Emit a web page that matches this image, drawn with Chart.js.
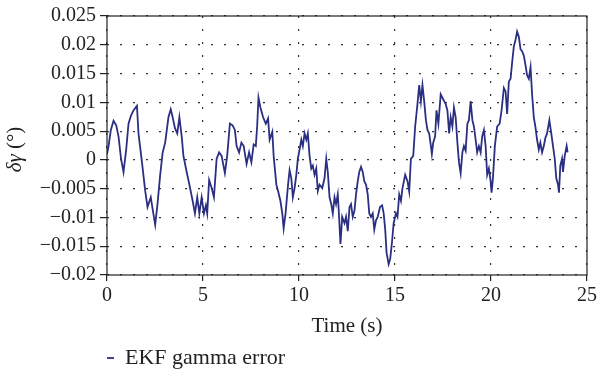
<!DOCTYPE html>
<html>
<head>
<meta charset="utf-8">
<script src="https://cdn.jsdelivr.net/npm/chart.js@4.4.1/dist/chart.umd.min.js"></script>
<style>
html, body { margin: 0; padding: 0; background: #fff; }
</style>
</head>
<body>
<canvas id="grafico" width="600" height="383"></canvas>
<script>
// Datos
const timeS = [
    0, 0.08, 0.2, 0.34, 0.48, 0.6, 0.73, 0.86, 1.0, 1.12,
    1.25, 1.38, 1.56, 1.64, 1.82, 1.99, 2.11, 2.28, 2.39, 2.51,
    2.63, 2.77, 2.9, 3.03, 3.2, 3.32, 3.42, 3.54, 3.66, 3.77,
    3.89, 3.98, 4.15, 4.29, 4.46, 4.58, 4.70, 4.81, 4.93, 5.05,
    5.15, 5.22, 5.32, 5.45, 5.57, 5.71, 5.84, 5.97, 6.14, 6.26,
    6.4, 6.54, 6.66, 6.75, 6.88, 7.0, 7.12, 7.27, 7.4, 7.52,
    7.64, 7.75, 7.82, 7.89, 7.99,
    8.13, 8.27, 8.39, 8.47, 8.61, 8.68, 8.82, 8.91, 9.03, 9.13,
    9.2, 9.3, 9.43, 9.51, 9.6, 9.68, 9.77, 9.86, 9.94, 10.03,
    10.12, 10.2, 10.29, 10.38, 10.46, 10.55, 10.64, 10.72, 10.81, 10.9,
    10.98, 11.07, 11.21, 11.33, 11.42, 11.5, 11.59, 11.68, 11.76, 11.85,
    11.93, 12.02, 12.07, 12.16, 12.25, 12.37, 12.45, 12.54, 12.63, 12.71,
    12.8, 12.89, 12.97, 13.06, 13.14, 13.23, 13.32, 13.4, 13.49, 13.58,
    13.66, 13.75, 13.84, 13.92, 14.01, 14.1, 14.22, 14.33, 14.41, 14.49,
    14.56, 14.67, 14.75, 14.84, 14.93, 15.05, 15.13, 15.22, 15.31, 15.39,
    15.53, 15.65, 15.74, 15.83, 15.95, 16.05, 16.17, 16.26, 16.35, 16.43,
    16.52,
    16.61, 16.69, 16.78, 16.87, 16.92, 16.99, 17.09, 17.16, 17.26, 17.38,
    17.47, 17.56, 17.64, 17.73, 17.82, 17.9, 17.99, 18.07, 18.16, 18.25,
    18.33, 18.42, 18.51, 18.59, 18.68, 18.77, 18.85, 18.94, 19.03, 19.11,
    19.2, 19.28, 19.37, 19.46, 19.54, 19.63, 19.72, 19.8, 19.89, 19.98,
    20.03, 20.1, 20.2, 20.32, 20.45, 20.55, 20.67, 20.76, 20.84, 20.93,
    21.02, 21.1, 21.19, 21.28, 21.36, 21.45, 21.54, 21.62, 21.71, 21.8,
    21.88, 21.97, 22.06, 22.14, 22.23, 22.31, 22.4, 22.49, 22.57, 22.66,
    22.75, 22.83, 22.92, 23.04, 23.14, 23.23, 23.32, 23.4, 23.49, 23.54,
    23.61, 23.7, 23.75, 23.84, 23.94, 23.99
];

const gammaError = [
    0.001, 0.0024, 0.0052, 0.0068, 0.006, 0.0041, 0.0002, -0.0021, 0.0018, 0.0063,
    0.0077, 0.0086, 0.0094, 0.0046, -0.0004, -0.0054, -0.0082, -0.0065, -0.0088, -0.0113,
    -0.0077, -0.0026, 0.0013, 0.003, 0.0074, 0.0088, 0.0074, 0.0055, 0.0046, 0.0074,
    0.0041, 0.0007, -0.0021, -0.0043, -0.0071, -0.0093, -0.0065, -0.0093, -0.0065, -0.0093,
    -0.0079, -0.0093, -0.0035, -0.0049, -0.0065, 0.0002, 0.0013, 0.0007, -0.0023, 0.0007,
    0.0063, 0.006, 0.0052, 0.0024, 0.0013, 0.003, 0.0024, -0.0007, 0.0013, -0.0004,
    0.0027, 0.0024, 0.0058, 0.0108, 0.0091,
    0.0074, 0.0063, 0.0072, 0.0035, 0.0049, 0.0007, -0.0043, -0.0054, -0.0071, -0.0093,
    -0.0119, -0.0093, -0.0043, -0.0018, -0.0032, -0.0065, -0.0049, -0.0026, 0.0002, 0.0018,
    0.0035, 0.0024, 0.0046, 0.0035, 0.0046, 0.0007, -0.0015, -0.001, -0.0026, -0.0015,
    -0.0054, -0.0043, -0.0049, -0.0032, 0.0002, -0.0021, -0.0065, -0.0077, -0.0093, -0.0065,
    -0.0077, -0.006, -0.0088, -0.0146, -0.0099, -0.011, -0.0099, -0.0124, -0.0082, -0.0077,
    -0.0099, -0.0088, -0.006, -0.0037, -0.0021, -0.0012, -0.0021, -0.0037, -0.0043, -0.006,
    -0.0093, -0.0099, -0.0093, -0.0121, -0.0105, -0.0099, -0.0082, -0.0079, -0.0093, -0.0121,
    -0.0161, -0.0181, -0.0172, -0.0144, -0.011, -0.0093, -0.0099, -0.006, -0.0071, -0.0049,
    -0.0026, -0.0037, -0.0055, 0.0002, 0.0007, 0.0058, 0.0097, 0.013, 0.0102, 0.013,
    0.0102,
    0.0069, 0.0052, 0.0046, 0.0024, 0.001, 0.003, 0.0041, 0.0086, 0.0063, 0.0114,
    0.0108, 0.0102, 0.0097, 0.0086, 0.0046, 0.0074, 0.0058, 0.0091, 0.0074, 0.003,
    -0.0004, -0.0023, 0.0013, 0.0024, 0.0016, 0.0063, 0.0069, 0.0102, 0.0069, 0.0058,
    0.0035, 0.0013, 0.0024, 0.0013, 0.0041, 0.0052, 0.0024, -0.0026, -0.0015, -0.0037,
    -0.0057, -0.0032, 0.0024, 0.0058, 0.0063, 0.0086, 0.0125, 0.0119, 0.008, 0.0136,
    0.0141, 0.0169, 0.0197, 0.0209, 0.0223, 0.0214, 0.0192, 0.0189, 0.0181, 0.0164,
    0.0147, 0.0141, 0.0161, 0.0114, 0.0074, 0.0058, 0.0035, 0.0018, 0.003, 0.0013,
    0.0024, 0.0038, 0.0046, 0.0069, 0.0046, 0.0024, 0.0002, -0.0032, -0.0043, -0.0057,
    -0.001, 0.0002, -0.0021, 0.0007, 0.0024, 0.0013
];

const xTicks = [0, 5, 10, 15, 20, 25];
const yTicks = [-0.02, -0.015, -0.01, -0.005, 0, 0.005, 0.01, 0.015, 0.02, 0.025];
const yTickLabels = ["\u22120.02", "\u22120.015", "\u22120.01", "\u22120.005", "0", "0.005", "0.01", "0.015", "0.02", "0.025"];
const seriesName = "EKF gamma error";

const serif = "'Liberation Serif', 'DejaVu Serif', serif";
const lineColor = "#2a2f82";

// Marco completo alrededor del área del gráfico
const marco = {
    id: "marco",
    afterDraw(chart) {
        const { ctx, chartArea: a } = chart;
        ctx.save();
        ctx.strokeStyle = "#222";
        ctx.lineWidth = 1.2;
        ctx.strokeRect(a.left, a.top, a.right - a.left, a.bottom - a.top);
        ctx.restore();
    }
};

// Título del eje Y con δγ en cursiva
const tituloY = {
    id: "tituloY",
    afterDraw(chart) {
        const ctx = chart.ctx;
        const a = chart.chartArea;
        const cy = (a.top + a.bottom) / 2 + 4;
        ctx.save();
        ctx.translate(15, cy);
        ctx.rotate(-Math.PI / 2);
        ctx.textBaseline = "middle";
        ctx.fillStyle = "#222";
        ctx.font = "italic 21px " + serif;
        const p1 = "\u03b4\u03b3";
        const w1 = ctx.measureText(p1).width;
        ctx.font = "21px " + serif;
        const p2 = " (\u00b0)";
        const w2 = ctx.measureText(p2).width;
        let x = -(w1 + w2) / 2;
        ctx.font = "italic 21px " + serif;
        ctx.fillText(p1, x, 0);
        ctx.font = "21px " + serif;
        ctx.fillText(p2, x + w1, 0);
        ctx.restore();
    }
};

const ctx = document.getElementById("grafico").getContext("2d");
new Chart(ctx, {
    type: "line",
    data: {
        datasets: [{
            label: seriesName,
            data: timeS.map((t, i) => ({ x: t, y: gammaError[i] })),
            borderColor: lineColor,
            backgroundColor: lineColor,
            borderWidth: 1.8,
            pointRadius: 0,
            tension: 0,
            fill: false
        }]
    },
    options: {
        responsive: false,
        animation: false,
        devicePixelRatio: 1,
        layout: { padding: { top: 16, right: 12, bottom: 4, left: 0 } },
        plugins: {
            legend: {
                position: "bottom",
                align: "start",
                fullSize: false,
                labels: {
                    usePointStyle: true,
                    pointStyle: "line",
                    pointStyleWidth: 7,
                    padding: 0,
                    color: "#222",
                    font: { family: serif, size: 22 }
                }
            },
            tooltip: { enabled: false }
        },
        scales: {
            x: {
                type: "linear",
                min: 0,
                max: 25,
                afterBuildTicks: s => { s.ticks = xTicks.map(v => ({ value: v })); },
                afterFit: s => { s.height = 72; },
                border: { display: false, dash: [2, 11] },
                grid: {
                    color: "#333",
                    lineWidth: 1.2,
                    tickLength: 6,
                    tickColor: "#222",
                    tickBorderDash: []
                },
                ticks: {
                    color: "#222",
                    padding: 3,
                    maxRotation: 0,
                    font: { family: serif, size: 20 },
                    callback: (v, i) => String(xTicks[i])
                },
                title: {
                    display: true,
                    text: "Time (s)",
                    color: "#222",
                    padding: { top: 2, bottom: 8 },
                    font: { family: serif, size: 21 }
                }
            },
            y: {
                min: -0.02,
                max: 0.025,
                afterBuildTicks: s => { s.ticks = yTicks.map(v => ({ value: v })); },
                afterFit: s => { s.width = 107; },
                border: { display: false, dash: [2, 11] },
                grid: {
                    color: "#333",
                    lineWidth: 1.2,
                    tickLength: 7,
                    tickColor: "#222",
                    tickBorderDash: []
                },
                ticks: {
                    color: "#222",
                    padding: 4,
                    font: { family: serif, size: 20 },
                    callback: (v, i) => yTickLabels[i]
                }
            }
        }
    },
    plugins: [marco, tituloY]
});
</script>
</body>
</html>
